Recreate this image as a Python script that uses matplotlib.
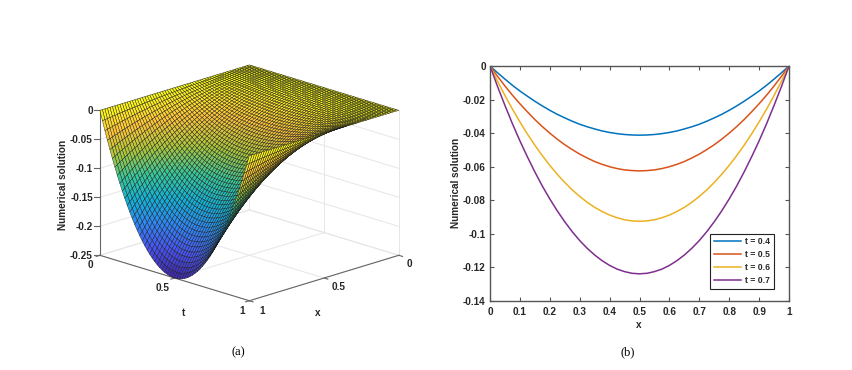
import matplotlib
matplotlib.use("Agg")
import matplotlib.pyplot as plt
import numpy as np
from matplotlib.colors import LinearSegmentedColormap

plt.rcParams['font.family'] = ['Liberation Sans', 'DejaVu Sans']

# panel (b) curves (x = 0 .. 0.5, the curves are mirrored about 0.5)
x_b = np.linspace(0, 1, 41)
half_04 = [0, -.0040, -.0078, -.0115, -.0149, -.0180, -.0210, -.0238, -.0264, -.0288, -.0309,
           -.0329, -.0347, -.0362, -.0375, -.0387, -.0396, -.0403, -.0408, -.0411, -.0412]
half_05 = [0, -.0061, -.0119, -.0174, -.0225, -.0273, -.0319, -.0361, -.0400, -.0436, -.0469,
           -.0498, -.0525, -.0548, -.0569, -.0586, -.0600, -.0611, -.0619, -.0623, -.0625]
half_06 = [0, -.0090, -.0176, -.0257, -.0333, -.0405, -.0472, -.0534, -.0592, -.0645, -.0694,
           -.0738, -.0777, -.0812, -.0842, -.0867, -.0888, -.0904, -.0916, -.0923, -.0925]
half_07 = [0, -.0121, -.0235, -.0344, -.0446, -.0541, -.0631, -.0715, -.0792, -.0863, -.0928,
           -.0987, -.1040, -.1086, -.1126, -.1160, -.1188, -.1210, -.1225, -.1235, -.1238]
labels_b = ['t = 0.4', 't = 0.5', 't = 0.6', 't = 0.7']
colors_b = ['#0072BD', '#D95319', '#EDB120', '#7E2F8E']

# panel (a) surface: the front-left edge (along the "t" axis, mirrored about 0.5)
# and how deep the surface goes along the "x" axis
half_edge = [0, -.0164, -.0322, -.0475, -.0622, -.0764, -.09, -.1031, -.1156, -.1275, -.1389,
             -.1497, -.16, -.1697, -.1789, -.1875, -.1956, -.2031, -.21, -.2164, -.2222,
             -.2275, -.2322, -.2364, -.24, -.2431, -.2456, -.2475, -.2489, -.2497, -.25]
fact_x = [0, .0003, .0011, .0025, .0044, .0069, .01, .0136, .0178, .0225, .0278, .0336, .04,
          .0469, .0544, .0625, .0711, .0803, .09, .1003, .1111, .1225, .1344, .1469, .16,
          .1736, .1878, .2025, .2178, .2336, .25, .2669, .2844, .3025, .3211, .3403, .36,
          .3803, .4011, .4225, .4444, .4669, .49, .5136, .5378, .5625, .5878, .6136, .64,
          .6669, .6944, .7225, .7511, .7803, .81, .8403, .8711, .9025, .9344, .9669, 1]
z_ticks = [0, -.05, -.1, -.15, -.2, -.25]

parula = LinearSegmentedColormap.from_list('parula', [
    (0.2422, 0.1504, 0.6603), (0.2810, 0.3228, 0.9579), (0.1786, 0.5289, 0.9682),
    (0.0689, 0.6948, 0.8394), (0.2161, 0.7843, 0.5923), (0.6720, 0.7793, 0.2227),
    (0.9970, 0.7659, 0.2199), (0.9769, 0.9839, 0.0805)])

gray = '#262626'
W, H = 852, 370


def ptext(px, py, s, **kw):
    # text placed by pixel position in the figure
    kw.setdefault('color', gray)
    kw.setdefault('fontsize', 7.2)
    kw.setdefault('fontweight', 'bold')
    kw.setdefault('ha', 'center')
    kw.setdefault('va', 'center')
    fig.text(px / W, 1 - py / H, s, **kw)


fig = plt.figure(figsize=(8.52, 3.70), dpi=100)

# (a)
ax = fig.add_axes([0.0575, 0.054, 0.46, 0.88], projection='3d', proj_type='ortho', computed_zorder=False)
ax.set_box_aspect((1, 1, 0.72), zoom=1.0)
ax.view_init(elev=17.7, azim=45)
ax.set_xlim(0, 1)
ax.set_ylim(0, 1)
ax.set_zlim(-0.25, 0)
ax.set_axis_off()

# walls and floor grid drawn behind the surface
grid_c = '#e6e6e6'
for v in [0, 0.5, 1]:
    ax.plot([v, v], [0, 1], [-.25, -.25], color=grid_c, lw=0.7, zorder=1)
    ax.plot([0, 1], [v, v], [-.25, -.25], color=grid_c, lw=0.7, zorder=1)
    ax.plot([v, v], [0, 0], [-.25, 0], color=grid_c, lw=0.7, zorder=1)
    ax.plot([0, 0], [v, v], [-.25, 0], color=grid_c, lw=0.7, zorder=1)
for z in z_ticks:
    ax.plot([0, 1], [0, 0], [z, z], color=grid_c, lw=0.7, zorder=1)
    ax.plot([0, 0], [0, 1], [z, z], color=grid_c, lw=0.7, zorder=1)

# axis lines and tick marks
axis_c = '#666666'
ax.plot([1, 1], [0, 1], [-.25, -.25], color=axis_c, lw=0.8, zorder=1.5)
ax.plot([0, 1], [1, 1], [-.25, -.25], color=axis_c, lw=0.8, zorder=1.5)
ax.plot([1, 1], [0, 0], [-.25, 0], color=axis_c, lw=0.8, zorder=1.5)
for v in [0, .5, 1]:
    ax.plot([1, 1.025], [v, v], [-.25, -.25], color=axis_c, lw=0.8, zorder=1.5)
    ax.plot([v, v], [1, 1.025], [-.25, -.25], color=axis_c, lw=0.8, zorder=1.5)
for z in z_ticks:
    ax.plot([1, 1.02], [0, -.02], [z, z], color=axis_c, lw=0.8, zorder=1.5)

edge_t = half_edge + half_edge[-2::-1]
X, T = np.meshgrid(np.linspace(0, 1, len(fact_x)), np.linspace(0, 1, len(edge_t)), indexing='ij')
Z = np.outer(fact_x, edge_t)
ax.plot_surface(X, T, Z, cmap=parula, vmin=-.25, vmax=0, rstride=1, cstride=1,
                edgecolor='#1a1a1a', linewidth=0.3, shade=False, antialiased=True, zorder=2)

for py, z in zip([111, 140, 169, 198, 227, 256], z_ticks):
    ptext(93, py, '%g' % z, ha='right')
for px, py, s in [(90, 265, '0'), (163, 288, '0.5'), (242, 311, '1'),
                  (262, 311, '1'), (339, 287, '0.5'), (409, 264, '0')]:
    ptext(px, py, s)
ptext(184, 313, 't')
ptext(318, 313, 'x')
ptext(63, 185, 'Numerical solution', rotation=90)

# (b)
bx = fig.add_axes([490 / W, 1 - 301 / H, 299 / W, 235 / H])
for half, lab, c in zip([half_04, half_05, half_06, half_07], labels_b, colors_b):
    bx.plot(x_b, half + half[-2::-1], color=c, lw=1.1, label=lab)
bx.set_xlim(0, 1)
bx.set_ylim(-.14, 0)
bx.set_xticks(np.arange(0, 1.01, .1))
bx.set_xticklabels(['0', '0.1', '0.2', '0.3', '0.4', '0.5', '0.6', '0.7', '0.8', '0.9', '1'])
bx.set_yticks([0, -.02, -.04, -.06, -.08, -.1, -.12, -.14])
bx.set_yticklabels(['0', '-0.02', '-0.04', '-0.06', '-0.08', '-0.1', '-0.12', '-0.14'])
bx.tick_params(direction='in', top=True, right=True, length=3, width=0.8, color='#555555',
               labelsize=7.2, labelcolor=gray)
bx.tick_params(axis='x', pad=4.5)
bx.tick_params(axis='y', pad=3)
for lb in bx.get_xticklabels() + bx.get_yticklabels():
    lb.set_fontweight('bold')
for s in bx.spines.values():
    s.set_color('#555555')
    s.set_linewidth(1.0)
ptext(639, 325, 'x')
ptext(456, 183, 'Numerical solution', rotation=90)
leg = bx.legend(loc='lower right', bbox_to_anchor=(774 / W, 1 - 289 / H), bbox_transform=fig.transFigure,
                fontsize=6.2, frameon=True, fancybox=False, framealpha=1, edgecolor='#222222',
                borderaxespad=0, handlelength=3.1, labelspacing=0.45, borderpad=0.45, handletextpad=0.5)
leg.get_frame().set_linewidth(0.8)
for t in leg.get_texts():
    t.set_fontweight('bold')
    t.set_color(gray)

ptext(238, 352, '(a)', family='Liberation Serif', fontsize=9, fontweight='normal', color='black')
ptext(628, 352, '(b)', family='Liberation Serif', fontsize=9, fontweight='normal', color='black')

fig.savefig('out.png', dpi=100)
